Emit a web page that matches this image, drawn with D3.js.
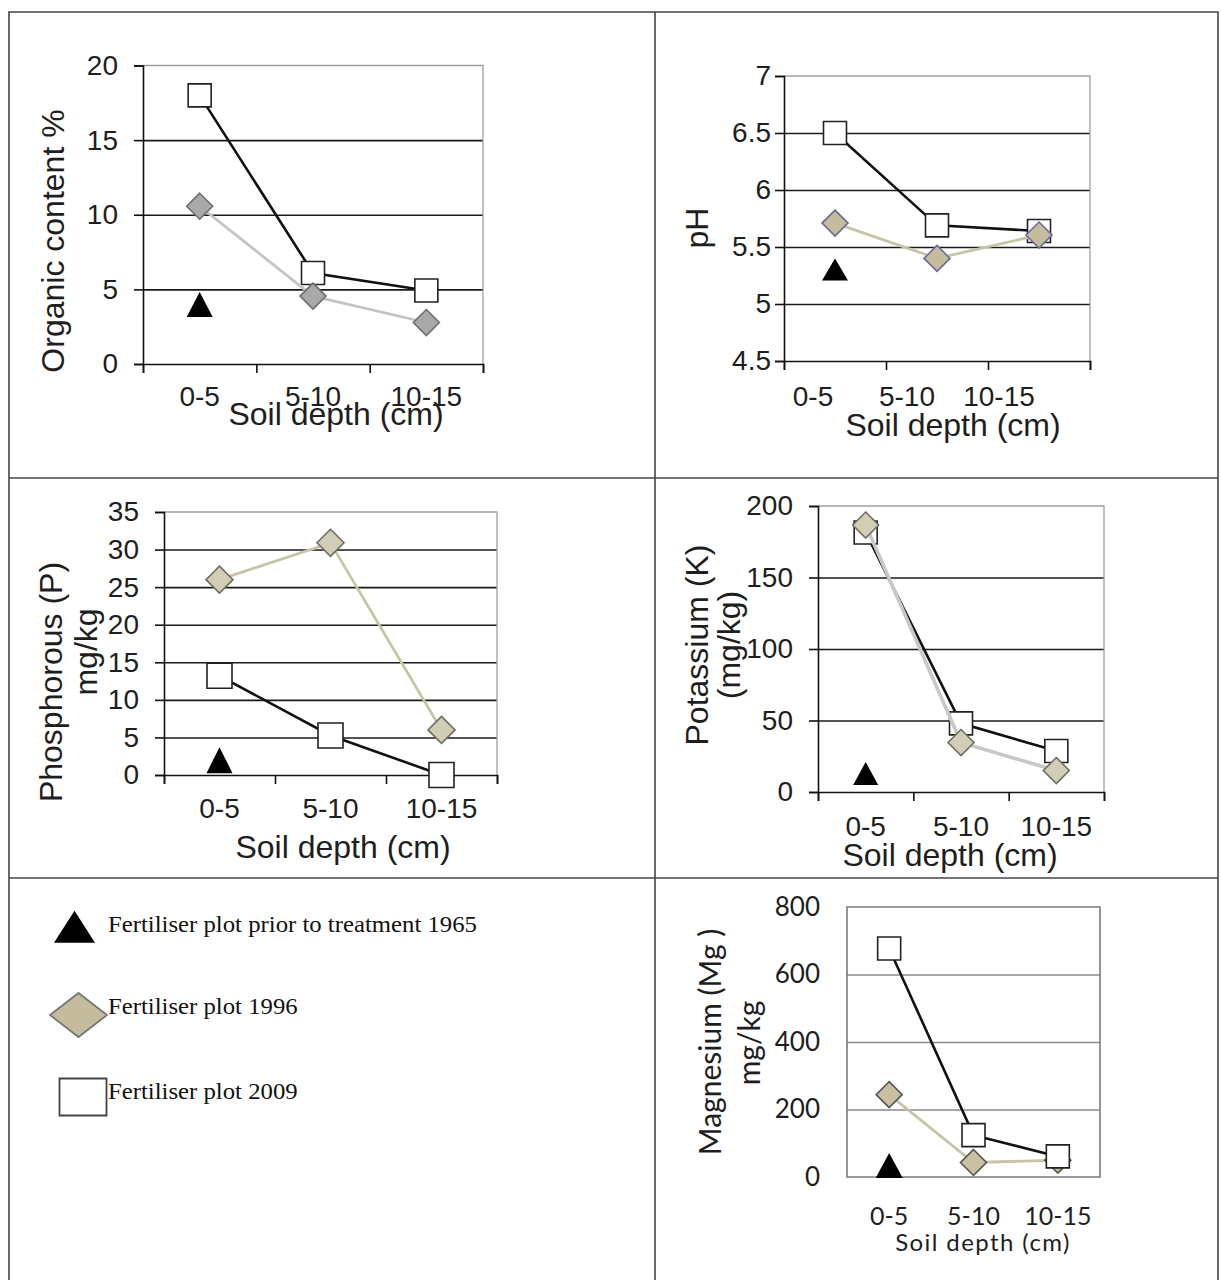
<!DOCTYPE html>
<html>
<head>
<meta charset="utf-8">
<script src="https://cdn.jsdelivr.net/npm/d3@7"></script>
<style>
  body { margin: 0; background: #fff; }
  svg { display: block; }
</style>
</head>
<body>
<svg id="chart" width="1221" height="1280"></svg>
<script>
const categories = ['0-5', '5-10', '10-15'];

const organic1965 = [3.7];
const organic1996 = [10.57, 4.55, 2.78];
const organic2009 = [18.0, 6.1, 4.92];
const organicTicks = [0, 5, 10, 15, 20];

const ph1965 = [5.27];
const ph1996 = [5.71, 5.4, 5.605];
const ph2009 = [6.5, 5.69, 5.64];
const phTicks = [4.5, 5, 5.5, 6, 6.5, 7];

const phosphorus1965 = [1.4];
const phosphorus1996 = [26, 30.9, 6];
const phosphorus2009 = [13.2, 5.26, 0];
const phosphorusTicks = [0, 5, 10, 15, 20, 25, 30, 35];

const potassium1965 = [10.3];
const potassium1996 = [186.7, 34.6, 15];
const potassium2009 = [181.5, 48, 28.7];
const potassiumTicks = [0, 50, 100, 150, 200];

const magnesium1965 = [21.6];
const magnesium1996 = [244, 43, 50];
const magnesium2009 = [677, 124, 61];
const magnesiumTicks = [0, 200, 400, 600, 800];

const legendLabels = [
  'Fertiliser plot prior to treatment 1965',
  'Fertiliser plot 1996',
  'Fertiliser plot 2009'
];

const svg = d3.select('#chart');
const arial = '"Liberation Sans", Arial, sans-serif';
const calibri = 'Lato, "Open Sans", sans-serif';
const ink = '#1e1e1e';

// table frame
svg.append('rect').attr('width', 1221).attr('height', 1280).attr('fill', '#fff');
const frame = svg.append('g').attr('stroke', '#444').attr('stroke-width', 1.6).attr('fill', 'none');
frame.append('path').attr('d', 'M9,1280 V12 H1218 V1280');
frame.append('line').attr('x1', 655).attr('x2', 655).attr('y1', 12).attr('y2', 1280);
frame.append('line').attr('x1', 9).attr('x2', 1218).attr('y1', 478).attr('y2', 478);
frame.append('line').attr('x1', 9).attr('x2', 1218).attr('y1', 878).attr('y2', 878);

const rectPath = (w, h) => `M${-w / 2},${-h / 2}h${w}v${h}h${-w}Z`;
const diamondPath = (w, h) => `M0,${-h / 2}L${w / 2},0L0,${h / 2}L${-w / 2},0Z`;
const trianglePath = (w, h) => `M0,${-2 * h / 3}L${w / 2},${h / 3}L${-w / 2},${h / 3}Z`;

function drawPanel(p) {
  const g = svg.append('g');
  const x = d3.scaleBand().domain(categories).range([p.left, p.right]);
  const y = d3.scaleLinear().domain([p.ticks[0], p.ticks[p.ticks.length - 1]]).range([p.bottom, p.top]);
  const cx = i => x(categories[i]) + x.bandwidth() / 2;
  const w = p.right - p.left;

  // horizontal gridlines
  g.append('g')
    .attr('transform', `translate(${p.left},0)`)
    .call(d3.axisLeft(y).tickValues(p.ticks.slice(1, -1)).tickSize(-w).tickFormat(''))
    .call(s => s.select('.domain').remove())
    .selectAll('line').attr('stroke', p.gridColor).attr('stroke-width', p.gridWidth);

  // top / right frame (full box for the Excel 2007 style panel)
  g.append('path')
    .attr('d', `M${p.left},${p.top} H${p.right} V${p.bottom}` + (p.boxed ? ` H${p.left} Z` : ''))
    .attr('fill', 'none').attr('stroke', p.frameColor).attr('stroke-width', p.boxed ? 1.6 : 1.3);

  // y axis
  const ya = g.append('g')
    .attr('transform', `translate(${p.left},0)`)
    .call(d3.axisLeft(y).tickValues(p.ticks).tickSize(p.tickLen).tickPadding(p.pad).tickFormat(d => String(d)));
  ya.selectAll('text').attr('font-family', p.font).attr('font-size', p.tickFont).attr('fill', ink);
  ya.selectAll('line, .domain').attr('stroke', p.axisColor).attr('stroke-width', 1.6);
  if (p.boxed) ya.select('.domain').remove();

  // x axis, ticks sit on the category boundaries
  if (!p.boxed) {
    const xb = d3.scaleLinear().domain([0, categories.length]).range([p.left, p.right]);
    g.append('g')
      .attr('transform', `translate(0,${p.bottom})`)
      .call(d3.axisBottom(xb).tickValues(d3.range(categories.length + 1)).tickSize(p.tickLen).tickFormat(''))
      .selectAll('line, .domain').attr('stroke', p.axisColor).attr('stroke-width', 1.6);
  }

  // category labels
  g.selectAll('.cat').data(categories).join('text')
    .attr('class', 'cat')
    .attr('x', (d, i) => cx(i) + p.labelDx[i])
    .attr('y', p.labelY)
    .attr('text-anchor', 'middle')
    .attr('font-family', p.font).attr('font-size', p.catFont).attr('fill', ink)
    .text(d => d);

  g.append('text')
    .attr('x', p.titleX).attr('y', p.titleY)
    .attr('text-anchor', 'middle')
    .attr('font-family', p.font).attr('font-size', p.titleFont).attr('fill', ink)
    .attr('letter-spacing', p.titleSpacing || 0)
    .text('Soil depth (cm)');

  // y titles
  p.yTitles.forEach(t => {
    g.append('text')
      .attr('transform', `translate(${t.x},${t.y}) rotate(-90)`)
      .attr('text-anchor', 'middle')
      .attr('font-family', p.font).attr('font-size', p.yTitleFont).attr('fill', ink)
      .text(t.text);
  });

  const line = d3.line().x((d, i) => cx(i)).y(d => y(d));

  const drawSquares = () => {
    g.append('path').attr('d', line(p.s2009)).attr('fill', 'none').attr('stroke', '#111').attr('stroke-width', 2.6);
    g.selectAll(null).data(p.s2009).join('path')
      .attr('d', rectPath(p.squareSize, p.squareSize))
      .attr('transform', (d, i) => `translate(${cx(i)},${y(d)})`)
      .attr('fill', '#fff').attr('stroke', '#222').attr('stroke-width', 1.6);
  };
  const drawDiamonds = () => {
    g.append('path').attr('d', line(p.s1996)).attr('fill', 'none').attr('stroke', p.line1996).attr('stroke-width', p.width1996);
    g.selectAll(null).data(p.s1996).join('path')
      .attr('d', diamondPath(p.diamondSize, p.diamondSize))
      .attr('transform', (d, i) => `translate(${cx(i)},${y(d)})`)
      .attr('fill', p.fill1996).attr('stroke', p.stroke1996).attr('stroke-width', 1.6);
  };
  if (p.squaresOnTop) { drawDiamonds(); drawSquares(); } else { drawSquares(); drawDiamonds(); }

  g.selectAll(null).data(p.s1965).join('path')
    .attr('d', trianglePath(p.tri[0], p.tri[1]))
    .attr('transform', (d, i) => `translate(${cx(i)},${y(d)})`)
    .attr('fill', '#000');
}

const classic = {
  font: arial, tickFont: 28, catFont: 28, titleFont: 32, yTitleFont: 32, tickLen: 9, pad: 16,
  gridColor: '#1a1a1a', gridWidth: 1.6, frameColor: '#a0a0a0', axisColor: '#111', boxed: false,
  squareSize: 23, diamondSize: 26, width1996: 2.8, squaresOnTop: false, labelDx: [0, 0, 0]
};

drawPanel({
  ...classic,
  left: 143, right: 483, top: 65.5, bottom: 364,
  ticks: organicTicks, s1965: organic1965, s1996: organic1996, s2009: organic2009,
  line1996: '#c4c4c4', fill1996: '#a9a9a9', stroke1996: '#6e6e6e', tri: [26, 25],
  labelY: 406, titleX: 336, titleY: 425,
  yTitles: [{ x: 64, y: 241, text: 'Organic content %' }]
});

drawPanel({
  ...classic,
  left: 784, right: 1090, top: 76, bottom: 361, pad: 4,
  ticks: phTicks, s1965: ph1965, s1996: ph1996, s2009: ph2009,
  line1996: '#c8c4a6', fill1996: '#c4bc9c', stroke1996: '#6a6a9c', tri: [26, 22],
  labelDx: [-22, -30, -40], labelY: 406, titleX: 953, titleY: 436,
  yTitles: [{ x: 708, y: 228, text: 'pH' }]
});

drawPanel({
  ...classic,
  left: 164, right: 497, top: 512, bottom: 775,
  ticks: phosphorusTicks, s1965: phosphorus1965, s1996: phosphorus1996, s2009: phosphorus2009,
  line1996: '#c8c4a6', fill1996: '#d2ceb6', stroke1996: '#6e6e62', tri: [26, 26],
  squareSize: 25, diamondSize: 27,
  labelY: 818, titleX: 343, titleY: 858,
  yTitles: [{ x: 62, y: 682, text: 'Phosphorous (P)' }, { x: 97, y: 652, text: 'mg/kg' }]
});

drawPanel({
  ...classic,
  left: 818, right: 1104, top: 506, bottom: 792,
  ticks: potassiumTicks, s1965: potassium1965, s1996: potassium1996, s2009: potassium2009,
  line1996: '#c8c8c8', fill1996: '#d2cdb5', stroke1996: '#6e6e66', tri: [25, 23], width1996: 3.6,
  labelY: 836, titleX: 950, titleY: 866,
  yTitles: [{ x: 708, y: 645, text: 'Potassium (K)' }, { x: 740, y: 645, text: '(mg/kg)' }]
});

drawPanel({
  ...classic,
  font: calibri, tickFont: 26, catFont: 25, titleFont: 24, titleSpacing: 1.4, yTitleFont: 30, tickLen: 0, pad: 27,
  gridColor: '#8a8a8a', gridWidth: 1.6, frameColor: '#7a7a7a', axisColor: '#7a7a7a', boxed: true,
  left: 847, right: 1100, top: 907, bottom: 1177, squaresOnTop: true,
  ticks: magnesiumTicks, s1965: magnesium1965, s1996: magnesium1996, s2009: magnesium2009,
  line1996: '#c8c4a6', fill1996: '#c8c0a0', stroke1996: '#555', tri: [27, 25],
  labelY: 1225, titleX: 983, titleY: 1251,
  yTitles: [{ x: 721, y: 1042, text: 'Magnesium (Mg )' }, { x: 760, y: 1043, text: 'mg/kg' }]
});

// legend panel
const legend = svg.append('g');
const legendY = [927, 1015, 1097];
legend.append('path').attr('d', trianglePath(41, 32)).attr('transform', `translate(74.5,${legendY[0] + 5})`).attr('fill', '#000');
legend.append('path').attr('d', diamondPath(57, 44)).attr('transform', `translate(78.5,${legendY[1]})`)
  .attr('fill', '#c4bc9c').attr('stroke', '#777').attr('stroke-width', 1.8);
legend.append('path').attr('d', rectPath(47, 37)).attr('transform', `translate(83,${legendY[2]})`)
  .attr('fill', '#fff').attr('stroke', '#444').attr('stroke-width', 1.8);
legend.selectAll('.lbl').data(legendLabels).join('text')
  .attr('class', 'lbl')
  .attr('transform', (d, i) => `translate(108,${[932, 1014, 1099][i]}) scale(1.1,1)`)
  .attr('font-family', '"Liberation Serif", "Times New Roman", serif')
  .attr('font-size', 22.5).attr('fill', '#111')
  .text(d => d);
</script>
</body>
</html>
